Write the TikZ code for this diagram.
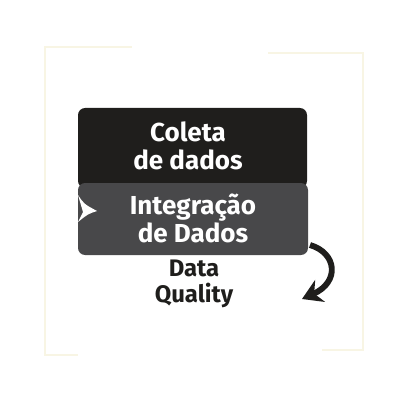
\documentclass[tikz,border=0pt]{standalone}
\usepackage{fontspec}
\setmainfont{Fira Sans}
\usetikzlibrary{arrows.meta}
\definecolor{darkbox}{HTML}{1F1E1C}
\definecolor{greybox}{HTML}{48484A}
\definecolor{frameline}{HTML}{F8F5E4}

\begin{document}
\begin{tikzpicture}
        [x=0.025cm,y=-0.025cm,
         every node/.style={align=center,font=\fontsize{18.5}{20}\selectfont\bfseries},
         box/.style={rounded corners=5pt}]
        \useasboundingbox (0,0) rectangle (400,400);

        % faint frame
        \draw[frameline, line width=1pt] (132,47) -- (45,47) -- (45,355) -- (78,355);
        \draw[frameline, line width=1pt] (268,53) -- (363,53) -- (363,350) -- (322,350);

        \fill[darkbox, box] (78,108) rectangle (307,188);
        \fill[greybox, box] (78,183) rectangle (308,255);

        % white chevron
        \fill[white] (78,195) .. controls (84,204) .. (97,211) .. controls (88,214) .. (78,222) -- (83,212) -- cycle;

        \node[text=white] (col) at (188,146) {Coleta\\de dados};
        \node[text=white] (int) at (193,218) {Integração\\de Dados};
        \node[text=darkbox, font=\fontsize{17}{19}\selectfont\bfseries] (dq) at (194,284) {Data\\Quality};

        \coordinate (s) at (310,245);
        \coordinate (e) at (302,299);
        \draw[darkbox, line width=4.2pt, -{Stealth[length=14pt,width=17pt]}]
            (s) .. controls (337,253) and (340,282) .. (e);
    \end{tikzpicture}
\end{document}
